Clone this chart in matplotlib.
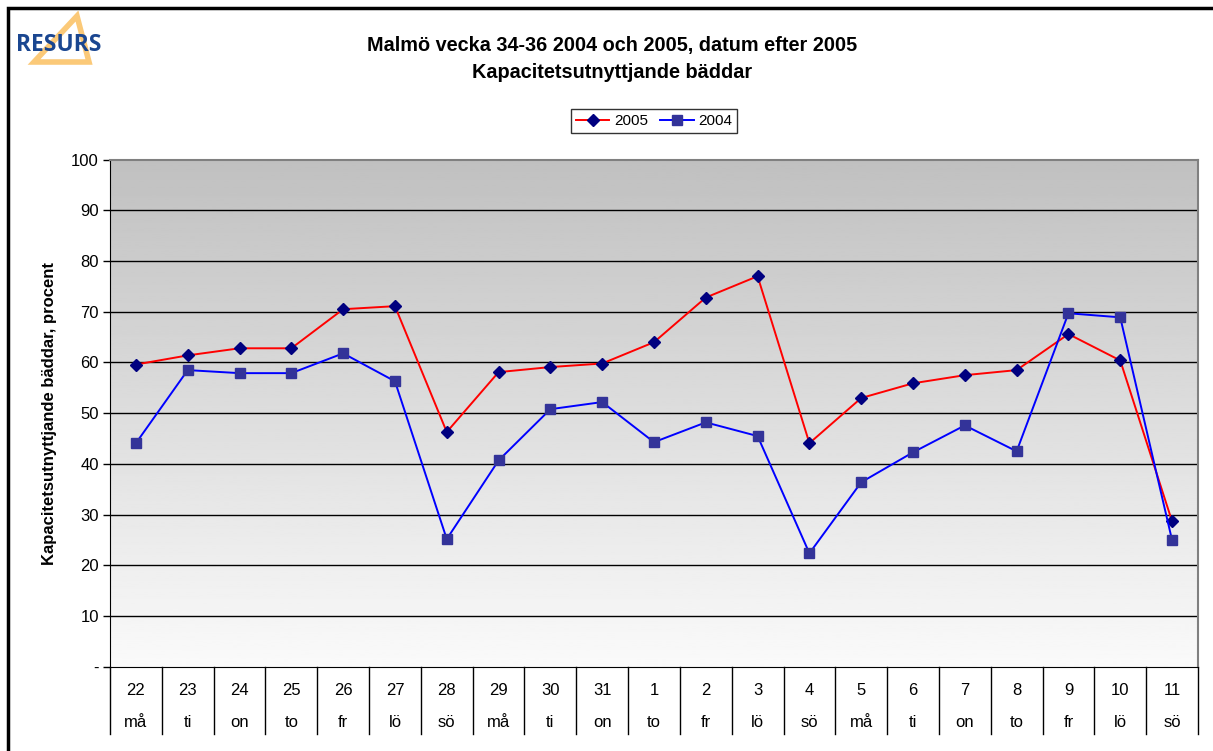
import numpy as np
import matplotlib.pyplot as plt
from matplotlib.patches import Polygon, Rectangle

plt.rcParams['font.family'] = ['Liberation Sans', 'DejaVu Sans']

dates = ['22', '23', '24', '25', '26', '27', '28', '29', '30', '31',
         '1', '2', '3', '4', '5', '6', '7', '8', '9', '10', '11']
days = ['må', 'ti', 'on', 'to', 'fr', 'lö', 'sö', 'må', 'ti', 'on',
        'to', 'fr', 'lö', 'sö', 'må', 'ti', 'on', 'to', 'fr', 'lö', 'sö']
y2005 = [59.6, 61.4, 62.8, 62.8, 70.5, 71.1, 46.3, 58.1, 59.1, 59.8,
         64.0, 72.8, 77.0, 44.1, 53.0, 55.9, 57.5, 58.5, 65.6, 60.4, 28.7]
y2004 = [44.1, 58.5, 57.9, 57.9, 61.8, 56.3, 25.2, 40.7, 50.8, 52.2,
         44.3, 48.2, 45.5, 22.4, 36.4, 42.3, 47.6, 42.5, 69.7, 68.9, 25.0]
yticks = [0, 10, 20, 30, 40, 50, 60, 70, 80, 90, 100]
ytick_labels = ['-'] + [str(v) for v in yticks[1:]]

fig = plt.figure(figsize=(12.13, 7.51), dpi=100)
ax = fig.add_axes([0.0907, 0.1119, 0.8969, 0.6757])

x = np.arange(len(dates))
ax.set_xlim(-0.5, len(dates) - 0.5)
ax.set_ylim(0, 100)

# gradient background
grad = np.linspace(250, 192, 256).reshape(-1, 1) / 255.0
ax.imshow(grad, cmap='gray', vmin=0, vmax=1, aspect='auto',
          extent=[-0.5, len(dates) - 0.5, 0, 100], origin='lower', zorder=0)

for v in yticks[1:-1]:
    ax.axhline(v, color='black', linewidth=1, zorder=1)

ax.plot(x, y2005, color='red', linewidth=1.4, marker='D', markersize=6.5,
        markerfacecolor='#000080', markeredgecolor='#000080', label='2005', zorder=3)
ax.plot(x, y2004, color='blue', linewidth=1.4, marker='s', markersize=7,
        markerfacecolor='#333399', markeredgecolor='#333399', label='2004', zorder=3)

ax.set_yticks(yticks)
ax.set_yticklabels(ytick_labels, fontsize=12)
ax.tick_params(axis='y', length=5, width=1, pad=3)
ax.set_xticks([])

for s in ['top', 'right']:
    ax.spines[s].set_color('#808080')
    ax.spines[s].set_linewidth(1.5)
ax.spines['left'].set_color('black')
ax.spines['bottom'].set_color('black')

# two-level category axis
for i in range(len(dates) + 1):
    ax.axvline(i - 0.5, ymin=-0.132, ymax=0, color='black', linewidth=1, clip_on=False)
trans = ax.get_xaxis_transform()
for i in range(len(dates)):
    ax.text(i, -0.047, dates[i], transform=trans, ha='center', va='center', fontsize=12)
    ax.text(i, -0.110, days[i], transform=trans, ha='center', va='center', fontsize=12)

ax.set_ylabel('Kapacitetsutnyttjande bäddar, procent', fontsize=12, fontweight='bold', labelpad=10)

fig.text(612 / 1213, 1 - 46 / 751, 'Malmö vecka 34-36 2004 och 2005, datum efter 2005',
         ha='center', va='center', fontsize=14.3, fontweight='bold')
fig.text(612 / 1213, 1 - 72 / 751, 'Kapacitetsutnyttjande bäddar',
         ha='center', va='center', fontsize=14.3, fontweight='bold')

leg = fig.legend(loc='center', bbox_to_anchor=(654 / 1213, 1 - 121 / 751), ncol=2, fontsize=11,
                 frameon=True, fancybox=False, edgecolor='black', handlelength=2.2,
                 handletextpad=0.3, columnspacing=0.8, borderpad=0.3)
leg.get_frame().set_linewidth(1)

# frame around the figure
fig.patches.append(Rectangle((8 / 1213, -0.1), 1.2, (751 - 8) / 751 + 0.1,
                             transform=fig.transFigure, fill=False,
                             edgecolor='black', linewidth=2.5))

# logo
tri = Polygon([(77 / 1213, 1 - 16 / 751), (34 / 1213, 1 - 62 / 751), (89 / 1213, 1 - 62 / 751)],
              closed=True, fill=False, edgecolor='#fbc978', linewidth=4,
              transform=fig.transFigure, joinstyle='miter')
fig.patches.append(tri)
fig.text(59 / 1213, 1 - 45 / 751, 'RESURS', ha='center', va='center',
         fontsize=16.5, fontweight='bold', color='#1a4690', family='Open Sans')

fig.savefig('out.png', dpi=100)
